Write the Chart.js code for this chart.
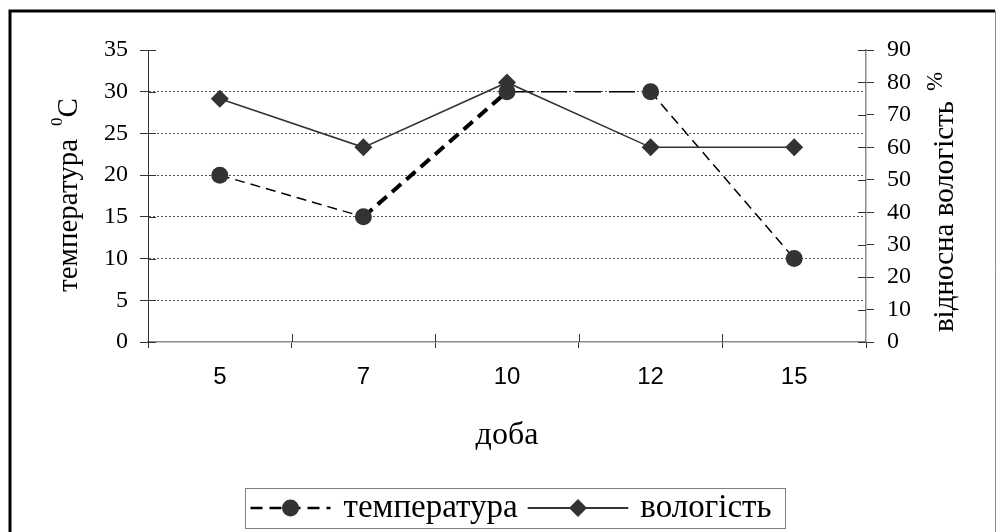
<!DOCTYPE html>
<html>
<head>
<meta charset="utf-8">
<script src="https://cdn.jsdelivr.net/npm/chart.js@4.4.1/dist/chart.umd.min.js"></script>
<style>
  html, body { margin: 0; padding: 0; background: #fff; }
  canvas { display: block; }
</style>
</head>
<body>
<canvas id="chart" width="996" height="532"></canvas>
<script>
// Days of observation
const days = ['5', '7', '10', '12', '15'];
// Air temperature, °C
const temperature = [20, 15, 30, 30, 10];
// Relative humidity, %
const humidity = [75, 60, 80, 60, 60];
// Axis ranges
const tempTicks = [0, 5, 10, 15, 20, 25, 30, 35];
const humidityTicks = [0, 10, 20, 30, 40, 50, 60, 70, 80, 90];

const seriesNames = ['температура', 'вологість'];
const axisTitles = { left: 'температура', leftUnit: 'C', leftSup: '0', right: 'відносна вологість', rightUnit: '%', bottom: 'доба' };

const SERIF = '"Liberation Serif", "Times New Roman", serif';
const SANS = '"Liberation Sans", Arial, sans-serif';

// Frame, axis titles, legend and the inner half of the tick marks
const decorations = {
  id: 'decorations',
  beforeDraw(chart) {
    const ctx = chart.ctx;
    ctx.save();
    ctx.fillStyle = '#fff';
    ctx.fillRect(0, 0, chart.width, chart.height);
    ctx.restore();
  },
  afterDraw(chart) {
    const ctx = chart.ctx;
    const area = chart.chartArea;
    ctx.save();

    // outer frame
    ctx.strokeStyle = '#000';
    ctx.lineWidth = 3;
    ctx.beginPath();
    ctx.moveTo(10, chart.height);
    ctx.lineTo(10, 11);
    ctx.lineTo(995, 11);
    ctx.stroke();
    ctx.strokeStyle = '#8c8c8c';
    ctx.lineWidth = 1;
    ctx.beginPath();
    ctx.moveTo(995.5, 11);
    ctx.lineTo(995.5, chart.height);
    ctx.stroke();

    // inner halves of tick marks
    ctx.strokeStyle = '#333';
    ctx.lineWidth = 1;
    const yL = chart.scales.y, yR = chart.scales.y1;
    yL.ticks.forEach((t, i) => {
      const py = Math.round(yL.getPixelForTick(i)) + 0.5;
      ctx.beginPath(); ctx.moveTo(area.left, py); ctx.lineTo(area.left + 8, py); ctx.stroke();
    });
    yR.ticks.forEach((t, i) => {
      const py = Math.round(yR.getPixelForTick(i)) + 0.5;
      ctx.beginPath(); ctx.moveTo(area.right - 8, py); ctx.lineTo(area.right, py); ctx.stroke();
    });
    const step = (area.right - area.left) / days.length;
    for (let i = 1; i < days.length; i++) {
      const px = Math.round(area.left + step * i) + 0.5;
      ctx.beginPath(); ctx.moveTo(px, area.bottom - 8); ctx.lineTo(px, area.bottom); ctx.stroke();
    }

    ctx.fillStyle = '#000';
    ctx.textBaseline = 'alphabetic';

    // left axis title (rotated) with superscript degree mark
    {
      const big = '29px ' + SERIF, small = '17px ' + SERIF;
      ctx.font = big;
      const w1 = ctx.measureText(axisTitles.left).width;
      const w3 = ctx.measureText(axisTitles.leftUnit).width;
      ctx.font = small;
      const w2 = ctx.measureText(axisTitles.leftSup).width;
      const gap = 13;
      const total = w1 + gap + w2 + w3;
      ctx.save();
      ctx.translate(77, 195);
      ctx.rotate(-Math.PI / 2);
      let u = -total / 2;
      ctx.textAlign = 'left';
      ctx.font = big; ctx.fillText(axisTitles.left, u, 0); u += w1 + gap;
      ctx.font = small; ctx.fillText(axisTitles.leftSup, u, -15); u += w2;
      ctx.font = big; ctx.fillText(axisTitles.leftUnit, u, 0);
      ctx.restore();
    }

    // right axis title (rotated) with raised percent sign
    {
      const big = '29px ' + SERIF, small = '23px ' + SERIF;
      ctx.font = big;
      const w1 = ctx.measureText(axisTitles.right).width;
      ctx.font = small;
      const w2 = ctx.measureText(axisTitles.rightUnit).width;
      const gap = 10;
      const total = w1 + gap + w2;
      ctx.save();
      ctx.translate(953, 202);
      ctx.rotate(-Math.PI / 2);
      let u = -total / 2;
      ctx.textAlign = 'left';
      ctx.font = big; ctx.fillText(axisTitles.right, u, 0); u += w1 + gap;
      ctx.font = small; ctx.fillText(axisTitles.rightUnit, u, -11);
      ctx.restore();
    }

    // bottom axis title
    ctx.font = '32px ' + SERIF;
    ctx.textAlign = 'center';
    ctx.fillText(axisTitles.bottom, (area.left + area.right) / 2, 444);

    // legend
    {
      const ds = chart.data.datasets;
      const bx = 245.5, by = 488.5, bw = 540, bh = 40, cy = 508;
      ctx.strokeStyle = '#7f7f7f';
      ctx.lineWidth = 1;
      ctx.strokeRect(bx, by, bw, bh);

      ctx.font = '33px ' + SERIF;
      ctx.textAlign = 'left';
      const t2 = ctx.measureText(ds[1].label).width;

      // dashed series sample
      const a0 = bx + 5, a1 = a0 + 80;
      ctx.strokeStyle = '#000';
      ctx.lineWidth = 2.5;
      ctx.setLineDash([12, 7]);
      ctx.beginPath(); ctx.moveTo(a0, cy); ctx.lineTo(a1, cy); ctx.stroke();
      ctx.setLineDash([]);
      ctx.fillStyle = '#333';
      ctx.beginPath(); ctx.arc((a0 + a1) / 2, cy, 8.5, 0, Math.PI * 2); ctx.fill();
      ctx.fillStyle = '#000';
      const t1x = a1 + 13;
      ctx.fillText(ds[0].label, t1x, cy + 9);
      const t1end = t1x + ctx.measureText(ds[0].label).width;

      // solid series sample
      const t2x = bx + bw - 14 - t2;
      const b0 = t1end + 10, b1 = t2x - 12;
      ctx.strokeStyle = '#333';
      ctx.lineWidth = 2;
      ctx.beginPath(); ctx.moveTo(b0, cy); ctx.lineTo(b1, cy); ctx.stroke();
      ctx.fillStyle = '#333';
      const dx = (b0 + b1) / 2, r = 9;
      ctx.beginPath();
      ctx.moveTo(dx, cy - r); ctx.lineTo(dx + r, cy); ctx.lineTo(dx, cy + r); ctx.lineTo(dx - r, cy);
      ctx.closePath(); ctx.fill();
      ctx.fillStyle = '#000';
      ctx.fillText(ds[1].label, t2x, cy + 9);
    }

    ctx.restore();
  }
};

new Chart(document.getElementById('chart'), {
  type: 'line',
  data: {
    labels: days,
    datasets: [
      {
        label: seriesNames[0],
        data: temperature,
        yAxisID: 'y',
        order: 1,
        borderColor: '#000',
        borderWidth: 1.5,
        borderDash: [10, 6],
        tension: 0,
        pointStyle: 'circle',
        pointRadius: 8.5,
        pointBackgroundColor: '#333',
        pointBorderColor: '#333',
        pointBorderWidth: 0,
        segment: {
          borderWidth: c => c.p0DataIndex === 1 ? 4 : 1.5,
          borderDash: c => c.p0DataIndex === 1 ? [12, 7] : (c.p0DataIndex === 2 ? [26, 8] : [10, 6])
        }
      },
      {
        label: seriesNames[1],
        data: humidity,
        yAxisID: 'y1',
        order: 0,
        borderColor: '#333',
        borderWidth: 1.5,
        tension: 0,
        pointStyle: 'rectRot',
        pointRadius: 9,
        pointBackgroundColor: '#333',
        pointBorderColor: '#333',
        pointBorderWidth: 0
      }
    ]
  },
  options: {
    responsive: false,
    animation: false,
    events: [],
    layout: { padding: { top: 50, left: 0, right: 0, bottom: 0 } },
    plugins: { legend: { display: false }, tooltip: { enabled: false } },
    scales: {
      x: {
        position: 'bottom',
        offset: true,
        grid: { offset: true, drawOnChartArea: false, tickLength: 6, tickColor: '#333', tickWidth: 1 },
        border: { color: '#8c8c8c', width: 1.5 },
        ticks: { font: { family: SANS, size: 24 }, color: '#000', padding: 15, maxRotation: 0 },
        afterFit: s => { s.height = 190; }
      },
      y: {
        position: 'left',
        min: tempTicks[0],
        max: tempTicks[tempTicks.length - 1],
        afterBuildTicks: s => { s.ticks = tempTicks.map(v => ({ value: v })); },
        grid: {
          tickLength: 8,
          tickColor: '#333',
          lineWidth: 1,
          color: c => (c.tick && c.tick.value > 0 && c.tick.value < 35) ? '#555' : 'rgba(0,0,0,0)'
        },
        border: { color: '#333', width: 1, dash: [2, 2] },
        ticks: { font: { family: SERIF, size: 24 }, color: '#000', padding: 12 },
        afterFit: s => { s.width = 148; }
      },
      y1: {
        position: 'right',
        min: humidityTicks[0],
        max: humidityTicks[humidityTicks.length - 1],
        afterBuildTicks: s => { s.ticks = humidityTicks.map(v => ({ value: v })); },
        grid: { drawOnChartArea: false, tickLength: 8, tickColor: '#333' },
        border: { color: '#8c8c8c', width: 1.5 },
        ticks: { font: { family: SERIF, size: 24 }, color: '#000', padding: 13 },
        afterFit: s => { s.width = 130; }
      }
    }
  },
  plugins: [decorations]
});
</script>
</body>
</html>
